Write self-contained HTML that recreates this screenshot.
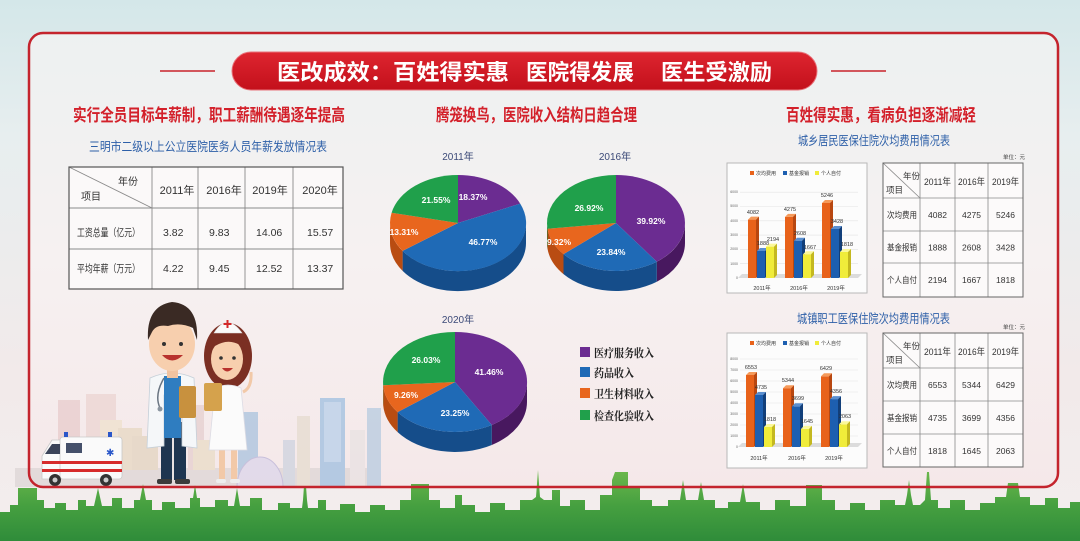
<!DOCTYPE html>
<html><head><meta charset="utf-8">
<style>
html,body{margin:0;padding:0;background:#f2eeee;}
svg{display:block;}
text{font-family:"Liberation Sans","Noto Sans CJK SC",sans-serif;}
.sf{font-family:"Liberation Serif","Noto Serif CJK SC",serif;}
</style></head>
<body>
<svg width="1080" height="541" viewBox="0 0 1080 541" xmlns="http://www.w3.org/2000/svg">
<defs>
<linearGradient id="bg" x1="0" y1="0" x2="0" y2="1">
<stop offset="0" stop-color="#d4e7e9"/><stop offset="0.25" stop-color="#e7eeef"/><stop offset="0.7" stop-color="#f2eaea"/><stop offset="1" stop-color="#f3eeee"/>
</linearGradient>
<linearGradient id="fr" x1="0" y1="0" x2="0" y2="1">
<stop offset="0" stop-color="#edf1f1"/><stop offset="0.5" stop-color="#f6f1f1"/><stop offset="1" stop-color="#f5e8e9"/>
</linearGradient>
<linearGradient id="bn" x1="0" y1="0" x2="0" y2="1">
<stop offset="0" stop-color="#de2530"/><stop offset="1" stop-color="#c3101b"/>
</linearGradient>
<linearGradient id="gr" x1="0" y1="0" x2="0" y2="1">
<stop offset="0" stop-color="#6cb84c"/><stop offset="0.5" stop-color="#46a040"/><stop offset="1" stop-color="#2f8c3a"/>
</linearGradient>
</defs>

<rect x="0" y="0" width="1080" height="541" fill="url(#bg)"/>
<rect x="29" y="33" width="1029" height="454" rx="14" fill="url(#fr)"/>

<!-- pale city left -->
<g opacity="0.75">
<rect x="15" y="468" width="360" height="19" fill="#ddd6d6"/>
<rect x="58" y="400" width="22" height="70" fill="#e8cccc"/>
<rect x="86" y="394" width="30" height="76" fill="#ecd5d2"/>
<rect x="100" y="420" width="22" height="50" fill="#efe1cd"/>
<rect x="118" y="428" width="24" height="42" fill="#e7d8c2"/>
<rect x="132" y="436" width="26" height="34" fill="#e3d4c0"/>
<rect x="188" y="405" width="16" height="65" fill="#e6cfcf"/>
<rect x="193" y="440" width="22" height="30" fill="#eadcc6"/>
<rect x="238" y="412" width="20" height="75" fill="#a9c3de"/>
<rect x="283" y="440" width="12" height="47" fill="#cdd3df"/>
<rect x="297" y="416" width="13" height="71" fill="#e6dccf"/>
<rect x="320" y="398" width="25" height="89" fill="#9fbfe0"/>
<rect x="324" y="402" width="17" height="60" fill="#b8d0ea"/>
<rect x="350" y="430" width="15" height="57" fill="#e8e2e2"/>
<rect x="367" y="408" width="14" height="79" fill="#b7cbe0"/>
<path d="M237,487 A23,30 0 0 1 283,487 Z" fill="#dcd6ea" stroke="#b9b2d6"/>
</g>

<!-- ambulance -->
<g>
<polygon points="42,479 42,456 52,440 62,440 62,479" fill="#fafafa" stroke="#c9c9c9" stroke-width="0.8"/>
<rect x="60" y="437" width="62" height="42" rx="3" fill="#fafafa" stroke="#c9c9c9" stroke-width="0.8"/>
<polygon points="45,454 52,444 60,444 60,454" fill="#3b4459"/>
<rect x="66" y="443" width="16" height="10" fill="#45506a"/>
<rect x="42" y="461" width="80" height="3" fill="#d62b2b"/>
<rect x="42" y="469" width="80" height="3" fill="#d62b2b"/>
<rect x="64" y="432" width="4" height="5" fill="#2a57c9"/>
<rect x="108" y="432" width="4" height="5" fill="#2a57c9"/>
<text x="106" y="456" font-size="10" fill="#2a57c9">✱</text>
<circle cx="55" cy="480" r="6" fill="#333"/><circle cx="55" cy="480" r="2.5" fill="#ccc"/>
<circle cx="106" cy="480" r="6" fill="#333"/><circle cx="106" cy="480" r="2.5" fill="#ccc"/>
</g>

<!-- doctor -->
<g>
<rect x="161" y="422" width="25" height="58" fill="#1e3550"/>
<rect x="172" y="430" width="2" height="50" fill="#e9e2e2"/>
<rect x="157" y="479" width="15" height="5" rx="2" fill="#3b3b3b"/>
<rect x="175" y="479" width="15" height="5" rx="2" fill="#3b3b3b"/>
<path d="M150,378 Q172,368 194,378 L197,448 L182,446 L182,395 L164,395 L164,446 L147,448 Z" fill="#f5f7f9" stroke="#c5cfd8" stroke-width="0.8"/>
<rect x="164" y="376" width="17" height="62" fill="#2f7dc0"/>
<rect x="167" y="366" width="11" height="12" fill="#f2c3a0"/>
<ellipse cx="172" cy="344" rx="23" ry="27" fill="#f7cfae"/>
<path d="M148,340 Q146,306 172,302 Q199,304 197,340 L193,328 Q180,322 168,326 Q156,324 152,332 Z" fill="#3a2a24"/>
<circle cx="164" cy="344" r="2" fill="#333"/><circle cx="181" cy="344" r="2" fill="#333"/>
<path d="M162,355 Q172,366 183,355 Z" fill="#b8322e"/>
<path d="M164,378 Q154,395 160,408" stroke="#6a7582" stroke-width="1.5" fill="none"/>
<circle cx="160" cy="409" r="2.5" fill="#8a95a0"/>
<rect x="179" y="386" width="17" height="32" rx="2" fill="#c8913e"/>
</g>

<!-- nurse -->
<g>
<ellipse cx="228" cy="356" rx="24" ry="33" fill="#7b2f23"/>
<rect x="219" y="448" width="6" height="33" fill="#f2c9a8"/>
<rect x="231" y="448" width="6" height="33" fill="#f2c9a8"/>
<rect x="216" y="479" width="10" height="4" rx="2" fill="#eee"/>
<rect x="230" y="479" width="10" height="4" rx="2" fill="#eee"/>
<path d="M215,388 Q228,382 241,388 L247,450 L209,450 Z" fill="#fbfbfb" stroke="#dcdce4" stroke-width="0.8"/>
<ellipse cx="227" cy="359" rx="16" ry="21" fill="#f7cfae"/>
<path d="M211,352 Q212,334 228,333 Q244,334 244,352 L240,345 Q228,338 215,346 Z" fill="#7b2f23"/>
<path d="M214,333 Q227,312 242,333 Z" fill="#fafafa" stroke="#ddd" stroke-width="0.6"/>
<rect x="226.5" y="320" width="2" height="8" fill="#d32a2a"/><rect x="223.5" y="323" width="8" height="2" fill="#d32a2a"/>
<circle cx="221" cy="358" r="1.8" fill="#333"/><circle cx="234" cy="358" r="1.8" fill="#333"/>
<path d="M222,368 Q227,375 233,368 Z" fill="#b8322e"/>
<rect x="204" y="383" width="18" height="28" rx="2" fill="#d5a24c"/>
<path d="M243,392 Q252,388 251,372" stroke="#f2c9a8" stroke-width="3" fill="none"/>
</g>

<!-- green skyline -->
<path fill="url(#gr)" d="M0,541 L0,512 L10,512 L10,505 L18,505 L18,488 L37,488 L37,500 L44,500 L44,508 L55,508 L55,503 L66,503 L66,510 L78,510 L78,500 L86,500 L86,506 L94,506 L98,488 L102,506 L112,506 L112,498 L122,498 L122,508 L134,508 L134,500 L140,500 L143,484 L146,500 L152,500 L152,510 L162,510 L162,502 L175,502 L175,508 L190,508 L190,498 L193,498 L195,485 L197,498 L200,498 L200,507 L215,507 L215,500 L228,500 L228,506 L234,506 L237,488 L240,506 L250,506 L250,498 L262,498 L262,510 L278,510 L278,503 L290,503 L290,508 L302,508 L303,500 L304,486 L306,486 L307,500 L308,508 L318,508 L318,500 L326,500 L326,510 L340,510 L340,504 L355,504 L355,512 L370,512 L370,505 L385,505 L385,510 L400,510 L400,500 L411,500 L411,484 L429,484 L429,500 L440,500 L440,508 L455,508 L455,495 L462,495 L462,505 L475,505 L475,512 L490,512 L490,503 L505,503 L505,510 L520,510 L520,500 L532,500 L536,497 L538,470 L540,497 L544,500 L552,500 L552,490 L560,490 L560,506 L570,506 L570,500 L585,500 L585,510 L600,510 L600,495 L612,495 L612,480 L615,472 L628,472 L628,488 L640,488 L640,500 L652,500 L652,506 L668,506 L668,500 L680,500 L683,480 L686,500 L698,500 L701,482 L704,500 L715,500 L715,508 L728,508 L728,502 L740,502 L743,484 L746,502 L760,502 L760,510 L775,510 L775,500 L790,500 L790,506 L806,506 L806,485 L822,485 L822,500 L835,500 L835,510 L850,510 L850,503 L865,503 L865,510 L880,510 L880,500 L895,500 L895,505 L905,505 L907,495 L909,480 L911,495 L913,505 L920,505 L925,500 L927,472 L929,472 L931,500 L938,500 L938,508 L950,508 L950,500 L965,500 L965,510 L980,510 L980,503 L995,503 L995,497 L1006,497 L1008,483 L1018,483 L1020,497 L1030,497 L1030,505 L1045,505 L1045,498 L1058,498 L1058,508 L1070,508 L1070,502 L1080,502 L1080,541 Z"/>

<rect x="29" y="33" width="1029" height="454" rx="14" fill="none" stroke="#c4242d" stroke-width="2.5"/>

<!-- title banner -->
<line x1="160" y1="71" x2="215" y2="71" stroke="#c8232b" stroke-width="1.5"/>
<line x1="831" y1="71" x2="886" y2="71" stroke="#c8232b" stroke-width="1.5"/>
<rect x="232" y="52" width="585" height="38" rx="19" fill="url(#bn)" stroke="#e8727a" stroke-width="1"/>
<text x="277" y="80" font-size="22" font-weight="700" fill="#fff" textLength="232" lengthAdjust="spacingAndGlyphs">医改成效：百姓得实惠</text>
<text x="526" y="80" font-size="22" font-weight="700" fill="#fff" textLength="108" lengthAdjust="spacingAndGlyphs">医院得发展</text>
<text x="661" y="80" font-size="22" font-weight="700" fill="#fff" textLength="111" lengthAdjust="spacingAndGlyphs">医生受激励</text>

<!-- section headings -->
<text x="73" y="121" font-size="17" font-weight="700" fill="#d3202a" textLength="272" lengthAdjust="spacingAndGlyphs">实行全员目标年薪制，职工薪酬待遇逐年提高</text>
<text x="436" y="121" font-size="17" font-weight="700" fill="#d3202a" textLength="201" lengthAdjust="spacingAndGlyphs">腾笼换鸟，医院收入结构日趋合理</text>
<text x="786" y="121" font-size="17" font-weight="700" fill="#d3202a" textLength="190" lengthAdjust="spacingAndGlyphs">百姓得实惠，看病负担逐渐减轻</text>

<!-- left table -->
<text x="89" y="151" font-size="12.5" fill="#2d5fa8" textLength="238" lengthAdjust="spacingAndGlyphs">三明市二级以上公立医院医务人员年薪发放情况表</text>
<g>
<rect x="69" y="167" width="274" height="122" fill="#fbf9f9"/>
<g stroke="#8a8a8a" stroke-width="0.9">
<line x1="152" y1="167" x2="152" y2="289"/><line x1="198" y1="167" x2="198" y2="289"/>
<line x1="245" y1="167" x2="245" y2="289"/><line x1="293" y1="167" x2="293" y2="289"/>
<line x1="69" y1="208" x2="343" y2="208"/><line x1="69" y1="249" x2="343" y2="249"/>
<line x1="69" y1="167" x2="152" y2="208"/>
</g>
<rect x="69" y="167" width="274" height="122" fill="none" stroke="#555" stroke-width="1.2"/>
<g font-size="10" fill="#333">
<text x="118" y="185">年份</text>
<text x="81" y="200">项目</text>
</g>
<g font-size="11" fill="#333" text-anchor="middle">
<text x="177" y="194">2011年</text><text x="224" y="194">2016年</text><text x="270" y="194">2019年</text><text x="320" y="194">2020年</text>
</g>
<g font-size="10.5" fill="#333">
<text x="77" y="236" textLength="63" lengthAdjust="spacingAndGlyphs">工资总量（亿元）</text>
<text x="77" y="272" textLength="63" lengthAdjust="spacingAndGlyphs">平均年薪（万元）</text>
<text x="163" y="236">3.82</text><text x="209" y="236">9.83</text><text x="256" y="236">14.06</text><text x="307" y="236">15.57</text>
<text x="163" y="272">4.22</text><text x="209" y="272">9.45</text><text x="256" y="272">12.52</text><text x="307" y="272">13.37</text>
</g>
</g>

<!-- pies -->
<g font-size="10" fill="#3c4a78" text-anchor="middle">
<text x="458" y="160">2011年</text><text x="615" y="160">2016年</text><text x="458" y="323">2020年</text>
</g>
<!-- 2011 -->
<path d="M526,223 A68,48 0 0 1 402.6,250.9 L402.6,270.9 A68,48 0 0 0 526,243 Z" fill="#154d8a"/>
<path d="M402.6,250.9 A68,48 0 0 1 390,223 L390,243 A68,48 0 0 0 402.6,270.9 Z" fill="#b94c12"/>
<path d="M458,223 L458,175 A68,48 0 0 1 520.2,203.6 Z" fill="#6b2c91"/>
<path d="M458,223 L520.2,203.6 A68,48 0 0 1 402.6,250.9 Z" fill="#1f6ab6"/>
<path d="M458,223 L402.6,250.9 A68,48 0 0 1 391.6,212.7 Z" fill="#e8661e"/>
<path d="M458,223 L391.6,212.7 A68,48 0 0 1 458,175 Z" fill="#20a04b"/>
<!-- 2016 -->
<path d="M685,223 A69,48 0 0 1 656.8,261.7 L656.8,281.7 A69,48 0 0 0 685,243 Z" fill="#48185f"/>
<path d="M656.8,261.7 A69,48 0 0 1 563.5,254.1 L563.5,274.1 A69,48 0 0 0 656.8,281.7 Z" fill="#154d8a"/>
<path d="M563.5,254.1 A69,48 0 0 1 547.5,228.8 L547.5,248.8 A69,48 0 0 0 563.5,274.1 Z" fill="#b94c12"/>
<path d="M547.5,228.8 A69,48 0 0 1 547,223 L547,243 A69,48 0 0 0 547.5,248.8 Z" fill="#177a37"/>
<path d="M616,223 L616,175 A69,48 0 0 1 656.8,261.7 Z" fill="#6b2c91"/>
<path d="M616,223 L656.8,261.7 A69,48 0 0 1 563.5,254.1 Z" fill="#1f6ab6"/>
<path d="M616,223 L563.5,254.1 A69,48 0 0 1 547.5,228.8 Z" fill="#e8661e"/>
<path d="M616,223 L547.5,228.8 A69,48 0 0 1 616,175 Z" fill="#20a04b"/>
<!-- 2020 -->
<path d="M527,382 A72,50 0 0 1 491.8,425 L491.8,445 A72,50 0 0 0 527,402 Z" fill="#48185f"/>
<path d="M491.8,425 A72,50 0 0 1 397.6,412.1 L397.6,432.1 A72,50 0 0 0 491.8,445 Z" fill="#154d8a"/>
<path d="M397.6,412.1 A72,50 0 0 1 383.2,385.2 L383.2,405.2 A72,50 0 0 0 397.6,432.1 Z" fill="#b94c12"/>
<path d="M383.2,385.2 A72,50 0 0 1 383,382 L383,402 A72,50 0 0 0 383.2,405.2 Z" fill="#177a37"/>
<path d="M455,382 L455,332 A72,50 0 0 1 491.8,425 Z" fill="#6b2c91"/>
<path d="M455,382 L491.8,425 A72,50 0 0 1 397.6,412.1 Z" fill="#1f6ab6"/>
<path d="M455,382 L397.6,412.1 A72,50 0 0 1 383.2,385.2 Z" fill="#e8661e"/>
<path d="M455,382 L383.2,385.2 A72,50 0 0 1 455,332 Z" fill="#20a04b"/>
<g font-size="8.5" font-weight="700" fill="#fff" text-anchor="middle">
<text x="473" y="200">18.37%</text><text x="483" y="245">46.77%</text><text x="404" y="235">13.31%</text><text x="436" y="203">21.55%</text>
<text x="651" y="224">39.92%</text><text x="611" y="255">23.84%</text><text x="559" y="245">9.32%</text><text x="589" y="211">26.92%</text>
<text x="489" y="375">41.46%</text><text x="455" y="416">23.25%</text><text x="406" y="398">9.26%</text><text x="426" y="363">26.03%</text>
</g>
<!-- pie legend -->
<rect x="580" y="347" width="10" height="10" fill="#6b2c91"/>
<rect x="580" y="367" width="10" height="10" fill="#1f6ab6"/>
<rect x="580" y="388" width="10" height="10" fill="#e8661e"/>
<rect x="580" y="410" width="10" height="10" fill="#20a04b"/>
<g font-size="11.5" fill="#222" font-weight="700">
<text class="sf" x="594" y="357" textLength="60" lengthAdjust="spacingAndGlyphs">医疗服务收入</text>
<text class="sf" x="594" y="377" textLength="40" lengthAdjust="spacingAndGlyphs">药品收入</text>
<text class="sf" x="594" y="398" textLength="60" lengthAdjust="spacingAndGlyphs">卫生材料收入</text>
<text class="sf" x="594" y="420" textLength="60" lengthAdjust="spacingAndGlyphs">检查化验收入</text>
</g>

<!-- right subtitles -->
<text x="798" y="145" font-size="12.5" fill="#2d5fa8" textLength="152" lengthAdjust="spacingAndGlyphs">城乡居民医保住院次均费用情况表</text>
<text x="797" y="323" font-size="12.5" fill="#2d5fa8" textLength="153" lengthAdjust="spacingAndGlyphs">城镇职工医保住院次均费用情况表</text>
<text x="1003" y="159" font-size="5.5" fill="#444">单位：元</text>
<text x="1003" y="329" font-size="5.5" fill="#444">单位：元</text>

<!-- chart 1 -->
<rect x="727" y="163" width="140" height="130" fill="#fcfcfc" stroke="#b8b8b8" stroke-width="1"/>
<g stroke="#e3e3e3" stroke-width="0.6">
<line x1="740" y1="263.7" x2="858" y2="263.7"/><line x1="740" y1="249.4" x2="858" y2="249.4"/><line x1="740" y1="235.1" x2="858" y2="235.1"/><line x1="740" y1="220.8" x2="858" y2="220.8"/><line x1="740" y1="206.5" x2="858" y2="206.5"/><line x1="740" y1="192.2" x2="858" y2="192.2"/>
</g>
<polygon points="738,278 858,278 862,274 742,274" fill="#dcdcdc"/>
<g font-size="3.5" fill="#666" text-anchor="end">
<text x="738" y="279">0</text><text x="738" y="265">1000</text><text x="738" y="250">2000</text><text x="738" y="236">3000</text><text x="738" y="222">4000</text><text x="738" y="207">5000</text><text x="738" y="193">6000</text>
</g>
<rect x="750" y="171" width="4" height="4" fill="#e8621a"/><text x="756" y="175" font-size="5" fill="#333">次均费用</text>
<rect x="783" y="171" width="4" height="4" fill="#1d5fb0"/><text x="789" y="175" font-size="5" fill="#333">基金报销</text>
<rect x="815" y="171" width="4" height="4" fill="#f0ec3a"/><text x="821" y="175" font-size="5" fill="#333">个人自付</text>
<g>
<rect x="748" y="219.6" width="8" height="58.4" fill="#e8621a"/><polygon points="748,219.6 751,216.6 759,216.6 756,219.6" fill="#f59a5a"/><polygon points="756,219.6 759,216.6 759,275 756,278" fill="#b84710"/>
<rect x="757" y="251" width="8" height="27" fill="#1d5fb0"/><polygon points="757,251 760,248 768,248 765,251" fill="#5a8fd0"/><polygon points="765,251 768,248 768,275 765,278" fill="#123f7a"/>
<rect x="766" y="246.6" width="8" height="31.4" fill="#f0ec3a"/><polygon points="766,246.6 769,243.6 777,243.6 774,246.6" fill="#fbf89a"/><polygon points="774,246.6 777,243.6 777,275 774,278" fill="#c4b820"/>
<rect x="785" y="216.9" width="8" height="61.1" fill="#e8621a"/><polygon points="785,216.9 788,213.9 796,213.9 793,216.9" fill="#f59a5a"/><polygon points="793,216.9 796,213.9 796,275 793,278" fill="#b84710"/>
<rect x="794" y="240.7" width="8" height="37.3" fill="#1d5fb0"/><polygon points="794,240.7 797,237.7 805,237.7 802,240.7" fill="#5a8fd0"/><polygon points="802,240.7 805,237.7 805,275 802,278" fill="#123f7a"/>
<rect x="803" y="254.2" width="8" height="23.8" fill="#f0ec3a"/><polygon points="803,254.2 806,251.2 814,251.2 811,254.2" fill="#fbf89a"/><polygon points="811,254.2 814,251.2 814,275 811,278" fill="#c4b820"/>
<rect x="822" y="203" width="8" height="75" fill="#e8621a"/><polygon points="822,203 825,200 833,200 830,203" fill="#f59a5a"/><polygon points="830,203 833,200 833,275 830,278" fill="#b84710"/>
<rect x="831" y="229" width="8" height="49" fill="#1d5fb0"/><polygon points="831,229 834,226 842,226 839,229" fill="#5a8fd0"/><polygon points="839,229 842,226 842,275 839,278" fill="#123f7a"/>
<rect x="840" y="252" width="8" height="26" fill="#f0ec3a"/><polygon points="840,252 843,249 851,249 848,252" fill="#fbf89a"/><polygon points="848,252 851,249 851,275 848,278" fill="#c4b820"/>
</g>
<g font-size="5.5" fill="#333" text-anchor="middle">
<text x="753" y="214">4082</text><text x="763" y="245">1888</text><text x="773" y="241">2194</text>
<text x="790" y="211">4275</text><text x="800" y="235">2608</text><text x="810" y="249">1667</text>
<text x="827" y="197">5246</text><text x="837" y="223">3428</text><text x="847" y="246">1818</text>
<text x="762" y="290">2011年</text><text x="799" y="290">2016年</text><text x="836" y="290">2019年</text>
</g>

<!-- chart 2 -->
<rect x="727" y="333" width="140" height="135" fill="#fcfcfc" stroke="#b8b8b8" stroke-width="1"/>
<g stroke="#e3e3e3" stroke-width="0.6">
<line x1="740" y1="436" x2="858" y2="436"/><line x1="740" y1="425" x2="858" y2="425"/><line x1="740" y1="414" x2="858" y2="414"/><line x1="740" y1="403" x2="858" y2="403"/><line x1="740" y1="392" x2="858" y2="392"/><line x1="740" y1="381" x2="858" y2="381"/><line x1="740" y1="370" x2="858" y2="370"/><line x1="740" y1="359" x2="858" y2="359"/>
</g>
<polygon points="738,447 858,447 862,443 742,443" fill="#dcdcdc"/>
<g font-size="3.5" fill="#666" text-anchor="end">
<text x="738" y="448">0</text><text x="738" y="437">1000</text><text x="738" y="426">2000</text><text x="738" y="415">3000</text><text x="738" y="404">4000</text><text x="738" y="393">5000</text><text x="738" y="382">6000</text><text x="738" y="371">7000</text><text x="738" y="360">8000</text>
</g>
<rect x="750" y="341" width="4" height="4" fill="#e8621a"/><text x="756" y="345" font-size="5" fill="#333">次均费用</text>
<rect x="783" y="341" width="4" height="4" fill="#1d5fb0"/><text x="789" y="345" font-size="5" fill="#333">基金报销</text>
<rect x="815" y="341" width="4" height="4" fill="#f0ec3a"/><text x="821" y="345" font-size="5" fill="#333">个人自付</text>
<g>
<rect x="746" y="375" width="8" height="72" fill="#e8621a"/><polygon points="746,375 749,372 757,372 754,375" fill="#f59a5a"/><polygon points="754,375 757,372 757,444 754,447" fill="#b84710"/>
<rect x="755" y="395" width="8" height="52" fill="#1d5fb0"/><polygon points="755,395 758,392 766,392 763,395" fill="#5a8fd0"/><polygon points="763,395 766,392 766,444 763,447" fill="#123f7a"/>
<rect x="764" y="427" width="8" height="20" fill="#f0ec3a"/><polygon points="764,427 767,424 775,424 772,427" fill="#fbf89a"/><polygon points="772,427 775,424 775,444 772,447" fill="#c4b820"/>
<rect x="783" y="388.2" width="8" height="58.8" fill="#e8621a"/><polygon points="783,388.2 786,385.2 794,385.2 791,388.2" fill="#f59a5a"/><polygon points="791,388.2 794,385.2 794,444 791,447" fill="#b84710"/>
<rect x="792" y="406.3" width="8" height="40.7" fill="#1d5fb0"/><polygon points="792,406.3 795,403.3 803,403.3 800,406.3" fill="#5a8fd0"/><polygon points="800,406.3 803,403.3 803,444 800,447" fill="#123f7a"/>
<rect x="801" y="428.9" width="8" height="18.1" fill="#f0ec3a"/><polygon points="801,428.9 804,425.9 812,425.9 809,428.9" fill="#fbf89a"/><polygon points="809,428.9 812,425.9 812,444 809,447" fill="#c4b820"/>
<rect x="821" y="376.3" width="8" height="70.7" fill="#e8621a"/><polygon points="821,376.3 824,373.3 832,373.3 829,376.3" fill="#f59a5a"/><polygon points="829,376.3 832,373.3 832,444 829,447" fill="#b84710"/>
<rect x="830" y="399.1" width="8" height="47.9" fill="#1d5fb0"/><polygon points="830,399.1 833,396.1 841,396.1 838,399.1" fill="#5a8fd0"/><polygon points="838,399.1 841,396.1 841,444 838,447" fill="#123f7a"/>
<rect x="839" y="424.3" width="8" height="22.7" fill="#f0ec3a"/><polygon points="839,424.3 842,421.3 850,421.3 847,424.3" fill="#fbf89a"/><polygon points="847,424.3 850,421.3 850,444 847,447" fill="#c4b820"/>
</g>
<g font-size="5.5" fill="#333" text-anchor="middle">
<text x="751" y="369">6553</text><text x="761" y="389">4735</text><text x="770" y="421">1818</text>
<text x="788" y="382">5344</text><text x="798" y="400">3699</text><text x="807" y="423">1645</text>
<text x="826" y="370">6429</text><text x="836" y="393">4356</text><text x="845" y="418">2063</text>
<text x="759" y="460">2011年</text><text x="797" y="460">2016年</text><text x="834" y="460">2019年</text>
</g>

<!-- right table 1 -->
<g>
<rect x="883" y="163" width="140" height="134" fill="#fcfafa"/>
<g stroke="#8a8a8a" stroke-width="0.8">
<line x1="920" y1="163" x2="920" y2="297"/><line x1="955" y1="163" x2="955" y2="297"/><line x1="988" y1="163" x2="988" y2="297"/>
<line x1="883" y1="198" x2="1023" y2="198"/><line x1="883" y1="231" x2="1023" y2="231"/><line x1="883" y1="263" x2="1023" y2="263"/>
<line x1="883" y1="163" x2="920" y2="198"/>
</g>
<rect x="883" y="163" width="140" height="134" fill="none" stroke="#666" stroke-width="1"/>
<g font-size="8.5" fill="#333"><text x="903" y="179">年份</text><text x="886" y="193">项目</text></g>
<g font-size="9.5" fill="#333">
<text x="924" y="185" textLength="27" lengthAdjust="spacingAndGlyphs">2011年</text>
<text x="958" y="185" textLength="27" lengthAdjust="spacingAndGlyphs">2016年</text>
<text x="992" y="185" textLength="27" lengthAdjust="spacingAndGlyphs">2019年</text>
</g>
<g font-size="8.5" fill="#333">
<text x="887" y="218" textLength="30" lengthAdjust="spacingAndGlyphs">次均费用</text>
<text x="887" y="250.5" textLength="30" lengthAdjust="spacingAndGlyphs">基金报销</text>
<text x="887" y="283" textLength="30" lengthAdjust="spacingAndGlyphs">个人自付</text>
</g>
<g font-size="8.5" fill="#333" text-anchor="middle">
<text x="937.5" y="218">4082</text><text x="971.5" y="218">4275</text><text x="1005.5" y="218">5246</text>
<text x="937.5" y="250.5">1888</text><text x="971.5" y="250.5">2608</text><text x="1005.5" y="250.5">3428</text>
<text x="937.5" y="283">2194</text><text x="971.5" y="283">1667</text><text x="1005.5" y="283">1818</text>
</g>
</g>

<!-- right table 2 -->
<g>
<rect x="883" y="333" width="140" height="134" fill="#fcfafa"/>
<g stroke="#8a8a8a" stroke-width="0.8">
<line x1="920" y1="333" x2="920" y2="467"/><line x1="955" y1="333" x2="955" y2="467"/><line x1="988" y1="333" x2="988" y2="467"/>
<line x1="883" y1="368" x2="1023" y2="368"/><line x1="883" y1="401" x2="1023" y2="401"/><line x1="883" y1="434" x2="1023" y2="434"/>
<line x1="883" y1="333" x2="920" y2="368"/>
</g>
<rect x="883" y="333" width="140" height="134" fill="none" stroke="#666" stroke-width="1"/>
<g font-size="8.5" fill="#333"><text x="903" y="349">年份</text><text x="886" y="363">项目</text></g>
<g font-size="9.5" fill="#333">
<text x="924" y="355" textLength="27" lengthAdjust="spacingAndGlyphs">2011年</text>
<text x="958" y="355" textLength="27" lengthAdjust="spacingAndGlyphs">2016年</text>
<text x="992" y="355" textLength="27" lengthAdjust="spacingAndGlyphs">2019年</text>
</g>
<g font-size="8.5" fill="#333">
<text x="887" y="388" textLength="30" lengthAdjust="spacingAndGlyphs">次均费用</text>
<text x="887" y="421" textLength="30" lengthAdjust="spacingAndGlyphs">基金报销</text>
<text x="887" y="454" textLength="30" lengthAdjust="spacingAndGlyphs">个人自付</text>
</g>
<g font-size="8.5" fill="#333" text-anchor="middle">
<text x="937.5" y="388">6553</text><text x="971.5" y="388">5344</text><text x="1005.5" y="388">6429</text>
<text x="937.5" y="421">4735</text><text x="971.5" y="421">3699</text><text x="1005.5" y="421">4356</text>
<text x="937.5" y="454">1818</text><text x="971.5" y="454">1645</text><text x="1005.5" y="454">2063</text>
</g>
</g>
</svg>
</body></html>
